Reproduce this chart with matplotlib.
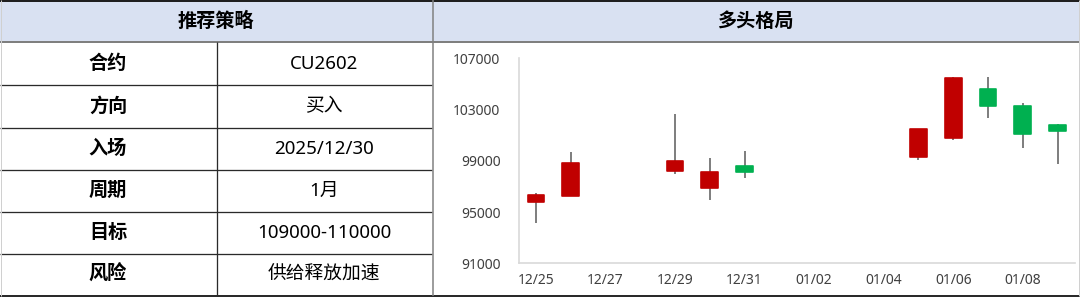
import matplotlib
matplotlib.use("Agg")
import matplotlib.pyplot as plt
import matplotlib.dates as mdates
import pandas as pd
from matplotlib.lines import Line2D
from matplotlib.patches import Rectangle

plt.rcParams['font.family'] = ['Noto Sans', 'Noto Sans CJK SC', 'DejaVu Sans']

# ---------------- data ----------------
table_title = "推荐策略"
chart_title = "多头格局"
row_labels = ["合约", "方向", "入场", "周期", "目标", "风险"]
row_values = ["CU2602", "买入", "2025/12/30", "1月", "109000-110000", "供给释放加速"]

dates = ["2025-12-25", "2025-12-26", "2025-12-29", "2025-12-30", "2025-12-31",
         "2026-01-05", "2026-01-06", "2026-01-07", "2026-01-08", "2026-01-09"]
opens = [95760, 96270, 98180, 96850, 98620, 99320, 100750, 104580, 103300, 101770]
closes = [96310, 98800, 98960, 98150, 98120, 101460, 105440, 103280, 101090, 101300]
highs = [96510, 99690, 102680, 99220, 99760, 101460, 105520, 105520, 103530, 101870]
lows = [94170, 96270, 97970, 95960, 97680, 99060, 100650, 102340, 100000, 98750]

axis_start = "2025-12-25"
axis_end = "2026-01-09"
y_ticks = [91000, 95000, 99000, 103000, 107000]

# ---------------- figure ----------------
W, H = 1080, 298
fig = plt.figure(figsize=(W / 100, H / 100), dpi=100)
fig.patch.set_facecolor("white")


def fx(px):
    return px / W


def fy(py):
    return 1 - py / H


def hline(y, x0, x1, color, lw):
    fig.add_artist(Line2D([fx(x0), fx(x1)], [fy(y), fy(y)], color=color,
                          lw=lw * 0.72, transform=fig.transFigure, solid_capstyle="butt"))


def vline(x, y0, y1, color, lw):
    fig.add_artist(Line2D([fx(x), fx(x)], [fy(y0), fy(y1)], color=color,
                          lw=lw * 0.72, transform=fig.transFigure, solid_capstyle="butt"))


header_h = 42.5
y_edges = [42.5, 85, 127.5, 169.5, 211.5, 254, 296]

# header background
fig.add_artist(Rectangle((0, fy(header_h)), 1, header_h / H, transform=fig.transFigure,
                         facecolor="#D9E1F2", edgecolor="none", zorder=0))

# lines
hline(0.8, 0, W, "#1F1F1F", 2)
hline(header_h, 0, W, "#7F7F7F", 2)
for y in y_edges[1:-1]:
    hline(y, 0, 432, "#2A2A2A", 1.3)
hline(296, 0, W, "#2A2A2A", 2)
vline(216.5, header_h, 296, "#2A2A2A", 1.3)
vline(432.5, 0, 296, "#7F7F7F", 1.5)
vline(0.5, 0, 296, "#D0D0D0", 1)
vline(1078.5, 0, 296, "#D0D0D0", 1)

# header text
fig.text(fx(216), fy(21.5), table_title, ha="center", va="center", fontsize=13.8,
         fontweight="bold", color="#000000")
fig.text(fx(756), fy(21.5), chart_title, ha="center", va="center", fontsize=13.8,
         fontweight="bold", color="#000000")

# rows
for i, (lab, val) in enumerate(zip(row_labels, row_values)):
    yc = (y_edges[i] + y_edges[i + 1]) / 2
    fig.text(fx(108), fy(yc), lab, ha="center", va="center", fontsize=13.8,
             fontweight="bold", color="#000000")
    fig.text(fx(324), fy(yc), val, ha="center", va="center", fontsize=13.5,
             color="#000000")

# ---------------- chart ----------------
ax_left, ax_right = 518.5, 1075
ax_top, ax_bottom = 58.3, 263.3
ax = fig.add_axes([fx(ax_left), fy(ax_bottom), (ax_right - ax_left) / W,
                   (ax_bottom - ax_top) / H])
ax.set_facecolor("none")

x = mdates.date2num(pd.to_datetime(dates))
x0 = mdates.date2num(pd.Timestamp(axis_start))
x1 = mdates.date2num(pd.Timestamp(axis_end))

up_color = "#C00000"
down_color = "#00B050"
wick_color = "#5A5A5A"
body_w = 0.48

ax.vlines(x, lows, highs, color=wick_color, lw=1.1, zorder=2)
for xi, o, c in zip(x, opens, closes):
    col = up_color if c >= o else down_color
    bottom = min(o, c)
    height = abs(c - o)
    ax.bar(xi, height, width=body_w, bottom=bottom, color=col, edgecolor=col,
           linewidth=1.2, joinstyle="round", zorder=3)

ax.set_xlim(x0 - 0.5, x1 + 0.5)
ax.set_ylim(y_ticks[0], y_ticks[-1])
tick_dates = pd.date_range(axis_start, axis_end, freq="2D")
ax.set_xticks(mdates.date2num(tick_dates))
ax.set_xticklabels([d.strftime("%m/%d") for d in tick_dates])
ax.set_yticks(y_ticks)
ax.set_yticklabels([str(v) for v in y_ticks])

for s in ["top", "right"]:
    ax.spines[s].set_visible(False)
for s in ["left", "bottom"]:
    ax.spines[s].set_color("#D9D9D9")
    ax.spines[s].set_linewidth(1.2)
ax.tick_params(axis="both", length=0, labelsize=10, colors="#404040")
ax.tick_params(axis="y", pad=13)
ax.tick_params(axis="x", pad=7)

fig.savefig("out.png", dpi=100, facecolor="white")
